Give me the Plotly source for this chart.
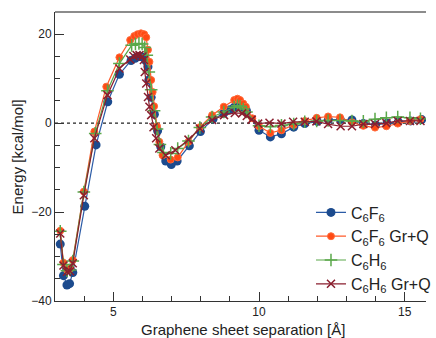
import plotly.graph_objects as go

# C6F6
x_c6f6 = [3.18, 3.29, 3.41, 3.50, 3.61, 4.02, 4.41, 4.81, 5.21, 5.61, 5.75, 5.85, 5.95, 6.05, 6.12,
          6.19, 6.22, 6.30, 6.41, 6.52, 6.63, 6.80, 6.99, 7.19, 7.61, 7.99, 8.42, 8.79, 9.00, 9.15,
          9.24, 9.35, 9.57, 10.00, 10.39, 10.77, 11.19, 11.57, 12.00, 12.38, 12.79, 13.19, 13.58,
          14.00, 14.39, 14.78, 15.20, 15.58]
y_c6f6 = [-27.2, -34.3, -36.4, -36.1, -33.6, -18.7, -4.9, 4.8, 11.0, 14.1, 14.6, 15.0, 15.0, 14.7, 14.0,
          12.7, 9.7, 5.8, 2.0, -1.7, -5.3, -8.5, -9.3, -8.5, -5.1, -1.9, 0.9, 2.2, 3.0, 3.6,
          3.8, 3.6, 2.8, -1.6, -3.1, -2.4, -0.9, -0.1, 0.4, 0.8, 0.8, 0.7, -0.1,
          -0.4, 0.0, 0.3, 0.5, 0.8]

# C6F6 Gr+Q
x_c6f6q = [3.18, 3.29, 3.41, 3.52, 3.61, 3.99, 4.35, 4.76, 5.21, 5.58, 5.72, 5.83, 5.95, 6.06, 6.13,
           6.19, 6.24, 6.30, 6.35, 6.40, 6.50, 6.58, 6.69, 6.97, 7.21, 7.58, 7.97, 8.39, 8.79, 9.15,
           9.26, 9.35, 9.46, 9.55, 9.77, 10.00, 10.39, 10.77, 11.19, 11.57, 11.98, 12.37, 12.78,
           13.19, 13.58, 13.98, 14.37, 14.76, 15.18, 15.54]
y_c6f6q = [-24.2, -31.4, -33.0, -32.7, -30.8, -15.4, -1.9, 8.2, 14.8, 18.7, 19.6, 20.0, 20.2, 20.0, 19.3,
           16.5, 13.8, 9.7, 7.0, 3.8, -0.7, -4.2, -7.2, -8.2, -7.7, -4.2, -0.9, 1.8, 3.7, 5.2,
           5.5, 5.2, 4.4, 3.7, 1.1, -0.7, -2.2, -1.6, -0.4, 0.5, 1.2, 1.5, 1.3,
           0.2, -0.6, -1.0, -0.7, -0.1, 0.5, 0.9]

# C6H6
x_c6h6 = [3.18, 3.29, 3.41, 3.52, 3.61, 3.99, 4.38, 4.80, 5.21, 5.63, 5.76, 5.88, 5.99, 6.08, 6.15,
          6.22, 6.30, 6.40, 6.50, 6.60, 6.72, 6.97, 7.21, 7.58, 7.97, 8.39, 8.79, 9.15, 9.26, 9.35,
          9.46, 9.57, 10.00, 10.39, 10.77, 11.19, 11.57, 11.98, 12.37, 12.78, 13.19, 13.58, 13.98,
          14.37, 14.76, 15.18, 15.54]
y_c6h6 = [-24.3, -31.8, -33.2, -33.0, -31.0, -15.5, -2.3, 7.3, 13.4, 17.5, 17.8, 17.9, 17.8, 17.0, 15.3,
          11.5, 7.5, 2.8, -1.3, -4.8, -6.6, -6.8, -5.7, -4.0, -1.0, 1.4, 2.5, 3.6, 3.9, 3.8,
          3.2, 2.5, -0.6, -0.8, -0.5, -0.2, 0.3, 0.5, 0.6, 0.6, 0.5, 0.4, 0.9,
          1.2, 1.4, 1.2, 1.0]

# C6H6 Gr+Q
x_c6h6q = [3.18, 3.29, 3.41, 3.52, 3.61, 3.99, 4.35, 4.80, 5.21, 5.58, 5.69, 5.80, 5.90, 6.00, 6.05,
           6.08, 6.13, 6.19, 6.24, 6.30, 6.38, 6.47, 6.58, 6.80, 7.13, 7.58, 7.97, 8.39, 8.80, 9.17,
           9.42, 9.58, 9.75, 9.97, 10.36, 10.77, 11.17, 11.57, 11.97, 12.37, 12.80, 13.19, 13.58,
           13.98, 14.37, 14.76, 15.18, 15.54]
y_c6h6q = [-24.8, -32.0, -33.4, -33.3, -31.5, -16.2, -3.4, 6.3, 12.3, 14.3, 15.1, 15.3, 15.3, 15.0, 14.2,
           11.5, 8.9, 5.9, 3.7, 1.8, -0.9, -3.4, -5.7, -7.2, -6.1, -3.7, -1.2, 0.7, 1.8, 2.3,
           2.2, 1.6, 0.8, -0.1, 0.1, -0.1, 0.3, 0.3, 0.4, -0.2, -0.7, -0.7, -0.2,
           -0.2, 0.0, 0.5, 0.5, 0.5]

names = ["C<sub>6</sub>F<sub>6</sub>", "C<sub>6</sub>F<sub>6</sub> Gr+Q",
         "C<sub>6</sub>H<sub>6</sub>", "C<sub>6</sub>H<sub>6</sub> Gr+Q"]

x_ticks = [5, 10, 15]
y_ticks = [-40, -20, 0, 20]
x_title = "Graphene sheet separation [Å]"
y_title = "Energy [kcal/mol]"

fig = go.Figure()
fig.add_trace(go.Scatter(x=x_c6f6, y=y_c6f6, name=names[0], mode="lines+markers",
                         line=dict(color="#2b5ba6", width=1.2),
                         marker=dict(symbol="circle", size=9, color="#1c4b8e")))
fig.add_trace(go.Scatter(x=x_c6f6q, y=y_c6f6q, name=names[1], mode="lines+markers",
                         line=dict(color="#ff5a2a", width=1.2),
                         marker=dict(symbol="circle", size=7, color="#ff4a14",
                                     line=dict(color="#ff6a3a", width=1))))
fig.add_trace(go.Scatter(x=x_c6h6, y=y_c6h6, name=names[2], mode="lines+markers",
                         line=dict(color="#5aa84a", width=1.2),
                         marker=dict(symbol="cross-thin", size=9, color="#5aa84a",
                                     line=dict(color="#5aa84a", width=1.5))))
fig.add_trace(go.Scatter(x=x_c6h6q, y=y_c6h6q, name=names[3], mode="lines+markers",
                         line=dict(color="#8a1e2e", width=1.2),
                         marker=dict(symbol="x-thin", size=8, color="#8a1e2e",
                                     line=dict(color="#8a1e2e", width=1.5))))

axis_font = dict(family="Liberation Sans, Arial, sans-serif", size=12, color="#222")
fig.update_layout(
    width=436, height=338,
    margin=dict(l=55, r=0, t=12, b=37),
    plot_bgcolor="white", paper_bgcolor="white",
    font=dict(family="Liberation Sans, Arial, sans-serif", color="#222"),
    showlegend=True,
    legend=dict(x=0.69, y=0.365, xanchor="left", yanchor="top",
                bgcolor="rgba(0,0,0,0)", font=dict(size=16, color="#222"),
                tracegroupgap=0),
    xaxis=dict(range=[3, 15.73], tickvals=x_ticks, ticks="inside", ticklen=9, tickwidth=1,
               tickcolor="#333", showline=True, linecolor="#333", linewidth=1,
               showgrid=False, zeroline=False, tickfont=axis_font, automargin=False,
               minor=dict(dtick=1, tick0=3, ticks="inside", ticklen=5, tickcolor="#333")),
    yaxis=dict(range=[-40, 25], tickvals=y_ticks, ticktext=["\u221240", "\u221220", "0", "20"],
               ticks="inside", ticklen=9, tickwidth=1,
               tickcolor="#333", showline=True, linecolor="#333", linewidth=1,
               showgrid=False, zeroline=False, tickfont=axis_font, automargin=False,
               minor=dict(dtick=5, tick0=0, ticks="inside", ticklen=5, tickcolor="#333")),
    shapes=[
        dict(type="line", xref="paper", yref="y", x0=0, x1=1, y0=0, y1=0,
             line=dict(color="#222", width=1.2, dash="dot"), layer="below"),
        dict(type="line", xref="paper", yref="paper", x0=0, x1=1, y0=1, y1=1,
             line=dict(color="#666", width=1.5)),
    ],
    annotations=[
        dict(text=x_title, xref="paper", yref="paper", x=0.508, y=-0.097,
             xanchor="center", yanchor="middle", showarrow=False,
             font=dict(size=15, color="#222")),
        dict(text=y_title, xref="paper", yref="paper", x=-0.1, y=0.5, textangle=-90,
             xanchor="center", yanchor="middle", showarrow=False,
             font=dict(size=15, color="#222")),
    ],
)

fig.write_html("out.html")
